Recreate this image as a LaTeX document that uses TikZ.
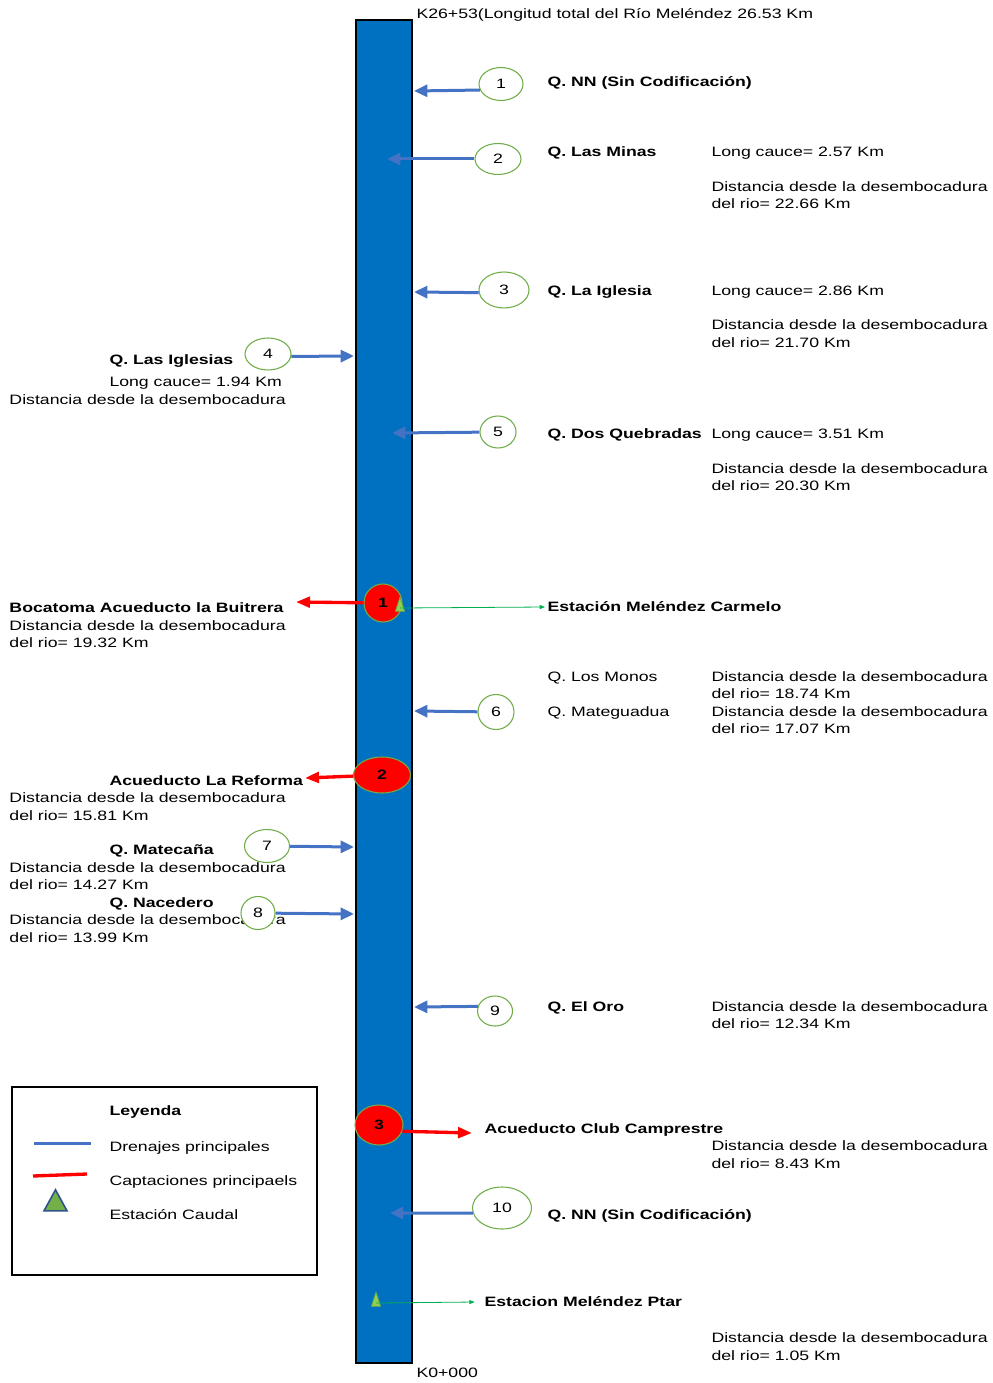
\documentclass[tikz,border=0pt]{standalone}
\usepackage{fontspec}
\setmainfont[FakeStretch=1.3]{Liberation Sans}
\usetikzlibrary{arrows.meta,shapes.geometric}

\definecolor{rioazul}{HTML}{0070C0}
\definecolor{drenaje}{HTML}{4472C4}
\definecolor{verdeborde}{HTML}{70AD47}
\definecolor{verdeest}{HTML}{00B050}
\definecolor{verdetri}{HTML}{92D050}
\definecolor{azultri}{HTML}{2F528F}

\tikzset{every picture/.style={line width=0.75pt}}
\tikzset{
  txt/.style={anchor=west, inner sep=0pt, text height=7.3pt, text depth=0pt, font=\fontsize{10.2}{12}\selectfont},
  btxt/.style={txt, font=\fontsize{10.2}{12}\selectfont\bfseries},
  qnum/.style 2 args={ellipse, draw=verdeborde, fill=white, line width=0.8pt, inner sep=0pt, minimum width=#1, minimum height=#2, font=\fontsize{10.2}{12}\selectfont},
  capt/.style 2 args={ellipse, draw=verdeborde, fill=red, line width=0.8pt, inner sep=0pt, minimum width=#1, minimum height=#2, font=\fontsize{10.2}{12}\selectfont\bfseries},
  drena/.style={draw=drenaje, line width=2.25pt, -{Triangle[length=10pt,width=9pt]}},
  capta/.style={draw=red, line width=2.5pt, -{Triangle[length=10.5pt,width=8pt]}},
  estac/.style={draw=verdeest, line width=0.6pt, -{Triangle[length=4pt,width=3pt]}},
  esttri/.style={isosceles triangle, isosceles triangle stretches, shape border rotate=90, draw=verdeborde, fill=verdetri, inner sep=0pt, line width=0.6pt, minimum width=6.75pt, minimum height=10.5pt}
}

\begin{document}
\begin{tikzpicture}[x=0.75pt,y=0.75pt,yscale=-1,xscale=1]
\useasboundingbox (0,0) rectangle (992,1383); %page of 992 x 1383

%Shape: Rectangle (river)
\draw [fill=rioazul, line width=1.2pt] (356,20) rectangle (412,1363) ;

%Ends of the tributaries on the river
\coordinate (d1) at (414,91);
\coordinate (d2) at (387,159);
\coordinate (d3) at (414,292);
\coordinate (d4) at (354,356);
\coordinate (d5) at (392,433);
\coordinate (d6) at (414,711);
\coordinate (d7) at (354,847);
\coordinate (d8) at (354,914);
\coordinate (d9) at (414,1007);
\coordinate (d10) at (390,1213);
\coordinate (k1) at (296,602);
\coordinate (k2) at (305,778);
\coordinate (k3) at (472,1133);

% Text Node
\draw (416,14) node [txt] (kfin) {K26+53(Longitud total del Río Meléndez 26.53 Km};
% Text Node
\draw (416,1373) node [txt] (kini) {K0+000};

%right side
\draw (547,82) node [btxt] (t1) {Q. NN (Sin Codificación)};
\draw (547,152) node [btxt] (t2) {Q. Las Minas};
\draw (711,152) node [txt] (l2) {Long cauce= 2.57 Km};
\draw (711,187) node [txt] (a2) {Distancia desde la desembocadura};
\draw (711,204) node [txt] (b2) {del rio= 22.66 Km};
\draw (547,291) node [btxt] (t3) {Q. La Iglesia};
\draw (711,291) node [txt] (l3) {Long cauce= 2.86 Km};
\draw (711,325) node [txt] (a3) {Distancia desde la desembocadura};
\draw (711,343) node [txt] (b3) {del rio= 21.70 Km};
\draw (547,434) node [btxt] (t5) {Q. Dos Quebradas};
\draw (711,434) node [txt] (l5) {Long cauce= 3.51 Km};
\draw (711,469) node [txt] (a5) {Distancia desde la desembocadura};
\draw (711,486) node [txt] (b5) {del rio= 20.30 Km};
\draw (547,607) node [btxt] (e1) {Estación Meléndez Carmelo};
\draw (547,677) node [txt] (tm) {Q. Los Monos};
\draw (711,677) node [txt] (am) {Distancia desde la desembocadura};
\draw (711,694) node [txt] (bm) {del rio= 18.74 Km};
\draw (547,712) node [txt] (t6) {Q. Mateguadua};
\draw (711,712) node [txt] (a6) {Distancia desde la desembocadura};
\draw (711,729) node [txt] (b6) {del rio= 17.07 Km};
\draw (547,1007) node [btxt] (t9) {Q. El Oro};
\draw (711,1007) node [txt] (a9) {Distancia desde la desembocadura};
\draw (711,1024) node [txt] (b9) {del rio= 12.34 Km};
\draw (484,1129) node [btxt] (tc3) {Acueducto Club Camprestre};
\draw (711,1146) node [txt] (ac3) {Distancia desde la desembocadura};
\draw (711,1164) node [txt] (bc3) {del rio= 8.43 Km};
\draw (547,1215) node [btxt] (t10) {Q. NN (Sin Codificación)};
\draw (484,1302) node [btxt] (e2) {Estacion Meléndez Ptar};
\draw (711,1338) node [txt] (ae2) {Distancia desde la desembocadura};
\draw (711,1356) node [txt] (be2) {del rio= 1.05 Km};

%left side
\draw (109,360) node [btxt] (t4) {Q. Las Iglesias};
\draw (109,382) node [txt] (l4) {Long cauce= 1.94 Km};
\draw (9,400) node [txt] (a4) {Distancia desde la desembocadura};
\draw (9,608) node [btxt] (tc1) {Bocatoma Acueducto la Buitrera};
\draw (9,626) node [txt] (ac1) {Distancia desde la desembocadura};
\draw (9,643) node [txt] (bc1) {del rio= 19.32 Km};
\draw (109,781) node [btxt] (tc2) {Acueducto La Reforma};
\draw (9,798) node [txt] (ac2) {Distancia desde la desembocadura};
\draw (9,816) node [txt] (bc2) {del rio= 15.81 Km};
\draw (109,850) node [btxt] (t7) {Q. Matecaña};
\draw (9,868) node [txt] (a7) {Distancia desde la desembocadura};
\draw (9,885) node [txt] (b7) {del rio= 14.27 Km};
\draw (109,903) node [btxt] (t8) {Q. Nacedero};
\draw (9,920) node [txt] (a8) {Distancia desde la desembocadura};
\draw (9,938) node [txt] (b8) {del rio= 13.99 Km};

%Shape: Ellipse (tributaries)
\draw (501,84) node [qnum={33pt}{24.75pt}] (q1) {1};
\draw (498,159) node [qnum={34.5pt}{23.25pt}] (q2) {2};
\draw (504,290) node [qnum={37.5pt}{27pt}] (q3) {3};
\draw (268,354) node [qnum={34.5pt}{24pt}] (q4) {4};
\draw (498,432) node [qnum={27pt}{24pt}] (q5) {5};
\draw (496,712) node [qnum={27pt}{26.25pt}] (q6) {6};
\draw (267,846) node [qnum={33.75pt}{24.75pt}] (q7) {7};
\draw (258,913) node [qnum={25.5pt}{24.75pt}] (q8) {8};
\draw (495,1011) node [qnum={26.25pt}{22.5pt}] (q9) {9};
\draw (502,1208) node [qnum={44.25pt}{31.5pt}] (q10) {10};

%Shape: Ellipse (intakes)
\draw (383,603) node [capt={28.5pt}{28.5pt}] (c1) {1};
\draw (382,775) node [capt={42.75pt}{27pt}] (c2) {2};
\draw (379,1125) node [capt={36pt}{30pt}] (c3) {3};

%Shape: Triangle (gauges)
\draw (400,608) node [esttri] (s1) {};
\draw (376,1303) node [esttri] (s2) {};

%Straight Lines
\draw [drena] (q1.196) -- (d1);
\draw [drena] (q2) -- (d2);
\draw [drena] (q3.186) -- (d3);
\draw [drena] (q4.-6) -- (d4);
\draw [drena] (q5) -- (d5);
\draw [drena] (q6) -- (d6);
\draw [drena] (q7) -- (d7);
\draw [drena] (q8) -- (d8);
\draw [drena] (q9.165) -- (d9);
\draw [drena] (q10.190) -- (d10);
\draw [capta] (c1) -- (k1);
\draw [capta] (c2) -- (k2);
\draw [capta] (c3.-15) -- (k3);
\draw [estac] (s1.center) -- ([xshift=-1.5pt]e1.west);
\draw [estac] (s2.center) -- ([xshift=-7pt]e2.west);

%Legend
\draw [line width=1.5pt] (12,1087) rectangle (317,1275) ;
\draw (109,1111) node [btxt] (ley) {Leyenda};
\draw (109,1147) node [txt] (ld) {Drenajes principales};
\draw (109,1181) node [txt] (lc) {Captaciones principaels};
\draw (109,1215) node [txt] (le) {Estación Caudal};
\draw [draw=drenaje, line width=2.25pt] (34,1143) -- (91,1143) ;
\draw [draw=red, line width=2.5pt] (33,1176) -- (87,1174) ;
\draw (55.5,1204) node [esttri, draw=azultri, fill=verdeborde!90!verdetri, line width=1.2pt, minimum width=17.25pt, minimum height=15.75pt] (lt) {};

\end{tikzpicture}
\end{document}
